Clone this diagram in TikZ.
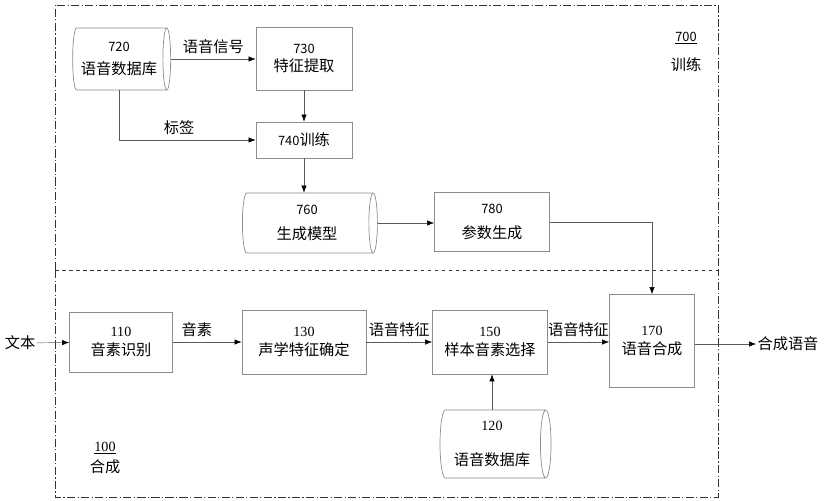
\documentclass[tikz,border=0pt]{standalone}
\usepackage{fontspec}
\setmainfont{Noto Sans CJK SC}
\newfontfamily\numserif{Liberation Serif}
\usetikzlibrary{arrows.meta, positioning, shapes.geometric}

\newcommand{\numsz}{\fontsize{11}{13}\selectfont}
\newcommand{\numsr}{\numserif\fontsize{12}{13}\selectfont}

\tikzset{
  blk/.style 2 args={draw=black!45, semithick, align=center, inner sep=1pt,
    minimum width=#1*0.03cm, minimum height=#2*0.03cm},
  db/.style 2 args={cylinder, draw=black!45, semithick, aspect=0.22, align=center,
    inner sep=1pt, minimum height=#1*0.03cm, minimum width=#2*0.03cm},
  arr/.style={draw=black!65, -{Latex[black, length=6pt, width=4.5pt]}},
  frame/.style={thick, black!80, dash pattern=on 7pt off 2pt on 1pt off 2pt},
  lbl/.style={inner sep=1pt, align=center},
}

\begin{document}
\begin{tikzpicture}[x=0.03cm, y=-0.03cm, font=\fontsize{13}{16}\selectfont]
    \useasboundingbox (0,0) rectangle (824,500);

    % Frames
    \draw[frame] (55,270) |- (718,5) -- (718,270);
    \draw[frame] (55,270) |- (718,497) -- (718,270);
    \draw[thick, black!80, dashed] (55,270) -- (718,270);

    % Training part
    \node[db={98}{62}] (db720) at (119,59) {{\numsz 720}\\[3pt]语音数据库};
    \node[blk={96}{63}] (b730) at (304,58.5) {{\numsz 730}\\特征提取};
    \node[blk={96}{36}] (b740) at (304,140) {{\numsz 740}训练};
    \node[db={135}{60}] (db760) at (307,223) {{\numsz 760}\\[6pt]生成模型};
    \node[blk={115}{59}] (b780) at (492,222) {{\numsz 780}\\[6pt]参数生成};
    \node[lbl] (t700) at (686,38) {\numsz\underline{700}};
    \node[lbl] (x700) at (686,65) {训练};

    % Training arrows
    \draw[arr] (db720.east) -- node[lbl, above=3pt] (sig) {语音信号} (b730.west |- db720.east);
    \draw[arr] (db720.south) |- node[lbl, above=3pt, pos=0.72] (tag) {标签} (b740.west);
    \draw[arr] (b730) -- (b740);
    \draw[arr] (b740) -- (b740 |- db760.north);
    \draw[arr] (db760.east) -- (b780.west |- db760.east);

    % Synthesis part
    \node[lbl] (txt) at (20,343) {文本};
    \node[blk={103}{60}] (b110) at (121,342) {{\numsr 110}\\音素识别};
    \node[blk={124}{64}] (b130) at (304,342) {{\numsr 130}\\声学特征确定};
    \node[blk={115}{64}] (b150) at (490,342) {{\numsr 150}\\样本音素选择};
    \node[blk={85}{93}] (b170) at (652,341) {{\numsr 170}\\语音合成};
    \node[db={111}{68}] (db120) at (492,444) {{\numsr 120}\\[14pt]语音数据库};
    \node[lbl] (out) at (788,344) {合成语音};
    \node[lbl] (t100) at (105,448) {\numsr\underline{100}};
    \node[lbl] (x100) at (105,467) {合成};

    % Synthesis arrows
    \draw[arr] (txt) -- (b110);
    \draw[arr] (b110) -- node[lbl, above=3pt, pos=0.35] (pho) {音素} (b130);
    \draw[arr] (b130) -- node[lbl, above=3pt] (af1) {语音特征} (b150);
    \draw[arr] (b150) -- node[lbl, above=3pt] (af2) {语音特征} (b150 -| b170.west);
    \draw[arr] (b170.east |- out) -- (out.west);
    \draw[arr] (db120.north) -- (db120.north |- b150.south);
    \draw[arr] (b780.east) -| (b170.north);
\end{tikzpicture}
\end{document}
